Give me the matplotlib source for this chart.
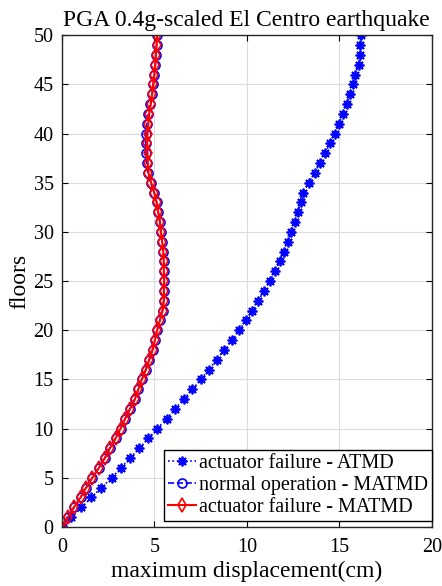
import numpy as np
import matplotlib.pyplot as plt

plt.rcParams['font.family'] = ['Liberation Serif', 'DejaVu Serif']

floors = np.arange(0, 51)

# actuator failure - ATMD
atmd_fail = [0, 0.52, 1.06, 1.60, 2.14, 2.69, 3.19, 3.68, 4.18, 4.67,
             5.15, 5.66, 6.11, 6.59, 7.06, 7.51, 7.95, 8.36, 8.76, 9.17,
             9.57, 9.95, 10.30, 10.62, 10.92, 11.24, 11.53, 11.78, 12.00, 12.22,
             12.41, 12.61, 12.77, 12.90, 13.01, 13.35, 13.66, 13.95, 14.23, 14.49,
             14.77, 14.99, 15.21, 15.39, 15.60, 15.75, 15.86, 16.04, 16.09, 16.13,
             16.16]

# normal operation - MATMD
matmd_normal = [0, 0.34, 0.65, 1.01, 1.31, 1.64, 2.00, 2.32, 2.59, 2.90,
                3.17, 3.42, 3.68, 3.95, 4.13, 4.32, 4.54, 4.72, 4.90, 5.03,
                5.15, 5.30, 5.44, 5.51, 5.51, 5.53, 5.51, 5.51, 5.48, 5.42,
                5.35, 5.30, 5.21, 5.12, 4.99, 4.80, 4.64, 4.58, 4.55, 4.53,
                4.55, 4.60, 4.67, 4.78, 4.88, 4.94, 5.00, 5.05, 5.08, 5.12,
                5.15]

# actuator failure - MATMD
matmd_fail = [0, 0.34, 0.65, 1.01, 1.31, 1.64, 2.00, 2.32, 2.59, 2.90,
              3.17, 3.42, 3.68, 3.95, 4.13, 4.32, 4.54, 4.72, 4.90, 5.03,
              5.15, 5.30, 5.44, 5.51, 5.51, 5.53, 5.51, 5.51, 5.48, 5.42,
              5.35, 5.30, 5.21, 5.12, 4.99, 4.83, 4.68, 4.65, 4.63, 4.61,
              4.63, 4.67, 4.72, 4.81, 4.88, 4.94, 5.00, 5.05, 5.08, 5.12,
              5.15]

fig = plt.figure(figsize=(4.42, 5.86), dpi=100)
ax = fig.add_axes([0.140, 0.1007, 0.837, 0.8393])

ax.plot(atmd_fail, floors, ':', color='blue', marker=(8, 2, 0), markersize=7,
        markeredgewidth=1.3, linewidth=1.2, label='actuator failure - ATMD')
ax.plot(matmd_normal, floors, '--', color='blue', marker='o', markersize=6.5,
        markerfacecolor='none', markeredgewidth=1.2, linewidth=1.2,
        label='normal operation - MATMD')
ax.plot(matmd_fail, floors, '-', color='red', marker='d', markersize=7,
        markerfacecolor='none', markeredgewidth=1.2, linewidth=1.5,
        label='actuator failure - MATMD')

ax.set_xlim(0, 20)
ax.set_ylim(0, 50)
ax.set_xticks([0, 5, 10, 15, 20])
ax.set_yticks(range(0, 51, 5))
ax.grid(True, color='#dcdcdc', linewidth=0.8)
ax.set_axisbelow(True)
ax.tick_params(direction='in', top=True, right=True, labelsize=14.5, length=4)
ax.tick_params(axis='x', pad=8)
ax.tick_params(axis='y', pad=6)
for s in ax.spines.values():
    s.set_linewidth(1.0)
    s.set_color('#262626')

ax.set_title('PGA 0.4g-scaled El Centro earthquake', fontsize=17, pad=6.5)
ax.set_xlabel('maximum displacement(cm)', fontsize=17, labelpad=3)
ax.set_ylabel('floors', fontsize=17, labelpad=2)

leg = ax.legend(loc='lower right', bbox_to_anchor=(1.0, 0.012), fontsize=14.5,
                fancybox=False, framealpha=1, edgecolor='black',
                borderaxespad=0, handlelength=1.4, handletextpad=0.15,
                labelspacing=0.15, borderpad=0.2)
leg.get_frame().set_linewidth(1.0)

fig.savefig('out.png', dpi=100)
